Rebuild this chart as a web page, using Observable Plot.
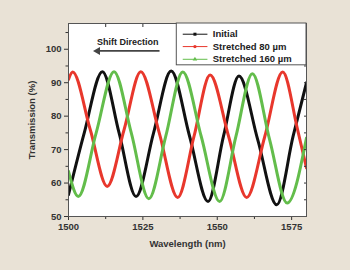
<!DOCTYPE html>
<html><head><meta charset="utf-8">
<script src="https://cdn.jsdelivr.net/npm/d3@7"></script>
<script src="https://cdn.jsdelivr.net/npm/@observablehq/plot@0.6"></script>
<style>
html,body{margin:0;padding:0;background:#e9e2d6;}
#chart{width:350px;height:270px;}
</style></head><body><div id="chart"></div>
<script>
const seriesNames = ["Initial", "Stretched 80 µm", "Stretched 160 µm"];
const seriesColors = ["#111111", "#e8372c", "#63bd4b"];
const seriesSymbols = ["square", "circle", "triangle"];

const initialWl = [1500, 1505.3, 1511.4, 1517.0, 1522.7, 1528.6, 1534.5, 1540.7, 1546.9, 1552.1, 1557.3, 1563.6, 1570.0, 1575.5, 1580];
const initialTr = [56.5, 75, 93.3, 75, 56, 75, 93.5, 74, 54.5, 74, 92, 73, 53.5, 74, 90];

const s80Wl = [1500, 1501.4, 1507.3, 1513.0, 1518.7, 1524.3, 1530.5, 1536.7, 1542.2, 1547.6, 1553.8, 1559.9, 1566.0, 1572.0, 1577.0, 1580];
const s80Tr = [91, 93.2, 76, 59, 76, 93.3, 75, 55.7, 74, 92.3, 74, 55.7, 74, 93.2, 76, 64.5];

const s160Wl = [1500, 1503.3, 1509.3, 1515.3, 1521.1, 1527.0, 1532.7, 1538.4, 1544.6, 1550.8, 1556.3, 1561.8, 1567.6, 1573.5, 1580];
const s160Tr = [63.5, 56, 75, 93.3, 75, 55.3, 74, 93.2, 74, 54.5, 74, 92.7, 73, 54, 73.5];

const xTicks = [1500, 1525, 1550, 1575];
const xMinor = [1512.5, 1537.5, 1562.5];
const yTicks = [50, 60, 70, 80, 90, 100];
const yMinor = [55, 65, 75, 85, 95, 105];

const rows = [];
[[initialWl, initialTr], [s80Wl, s80Tr], [s160Wl, s160Tr]].forEach(([wl, tr], i) => {
  wl.forEach((w, j) => rows.push({series: seriesNames[i], wl: w, tr: tr[j]}));
});

// legend layout in data units
const legendBox = {x1: 1536.4, x2: 1580, y1: 95.2, y2: 107.7};
const legendRows = seriesNames.map((n, i) => ({
  name: n, color: seriesColors[i], symbol: seriesSymbols[i],
  y: [104.5, 100.8, 97.0][i], lx1: 1538.4, lx2: 1546.7, mx: 1542.5, tx: 1548.5
}));
const shiftNote = {text: "Shift Direction", x: 1519.9, y: 102.1, ax1: 1530.6, ax2: 1509.8, ay: 99.5};

const font = "'Liberation Sans', Arial, sans-serif";
const ink = "#333";

const chart = Plot.plot({
  width: 350, height: 270,
  marginLeft: 68, marginRight: 44, marginTop: 23, marginBottom: 54,
  style: {background: "transparent", fontFamily: font, fontWeight: "bold", fontSize: "9.5px", color: ink},
  x: {domain: [1500, 1580]},
  y: {domain: [50, 107.7]},
  marks: [
    Plot.frame({fill: "white", stroke: null}),
    Plot.line(rows, {x: "wl", y: "tr", z: "series", stroke: d => seriesColors[seriesNames.indexOf(d.series)], strokeWidth: 3, curve: "monotone-x", clip: true}),
    Plot.axisX({ticks: xTicks, tickSize: 4, tickFormat: d => String(d), label: "Wavelength (nm)", labelAnchor: "center", labelArrow: "none", labelOffset: 30, tickPadding: 3, fontSize: 9.5, stroke: ink}),
    Plot.axisX({ticks: xMinor, tickSize: 3, text: null, label: null, stroke: ink}),
    Plot.axisX({anchor: "top", ticks: xTicks.concat(xMinor), tickSize: -3, text: null, label: null, stroke: ink}),
    Plot.axisY({ticks: yTicks, tickSize: 4, tickPadding: 3, label: "Transmission (%)", labelAnchor: "center", labelArrow: "none", labelOffset: 40, fontSize: 9.5, stroke: ink}),
    Plot.axisY({ticks: yMinor, tickSize: 2.5, text: null, label: null, stroke: ink}),
    Plot.axisY({anchor: "right", ticks: yTicks.concat(yMinor), tickSize: -3, text: null, label: null, stroke: ink}),
    Plot.frame({stroke: "#555", strokeWidth: 1}),
    Plot.text([shiftNote], {x: "x", y: "y", text: "text", fontSize: 9, fontWeight: "bold", fill: "#222"}),
    Plot.link([shiftNote], {x1: "ax1", x2: "ax2", y1: "ay", y2: "ay", stroke: "#444", strokeWidth: 1.8}),
    Plot.dot([shiftNote], {x: "ax2", y: "ay", symbol: "triangle", rotate: -90, r: 3, fill: "#444", stroke: null}),
    Plot.rect([legendBox], {x1: "x1", x2: "x2", y1: "y1", y2: "y2", fill: "white", stroke: "#555", strokeWidth: 1}),
    Plot.link(legendRows, {x1: "lx1", x2: "lx2", y1: "y", y2: "y", stroke: "color", strokeWidth: 1}),
    Plot.dot(legendRows, {x: "mx", y: "y", symbol: "symbol", fill: "color", stroke: null, r: 1.7}),
    Plot.text(legendRows, {x: "tx", y: "y", text: "name", textAnchor: "start", fontSize: 9.5, fontWeight: "bold", fill: "#222"})
  ]
});
document.getElementById("chart").appendChild(chart);
</script></body></html>
